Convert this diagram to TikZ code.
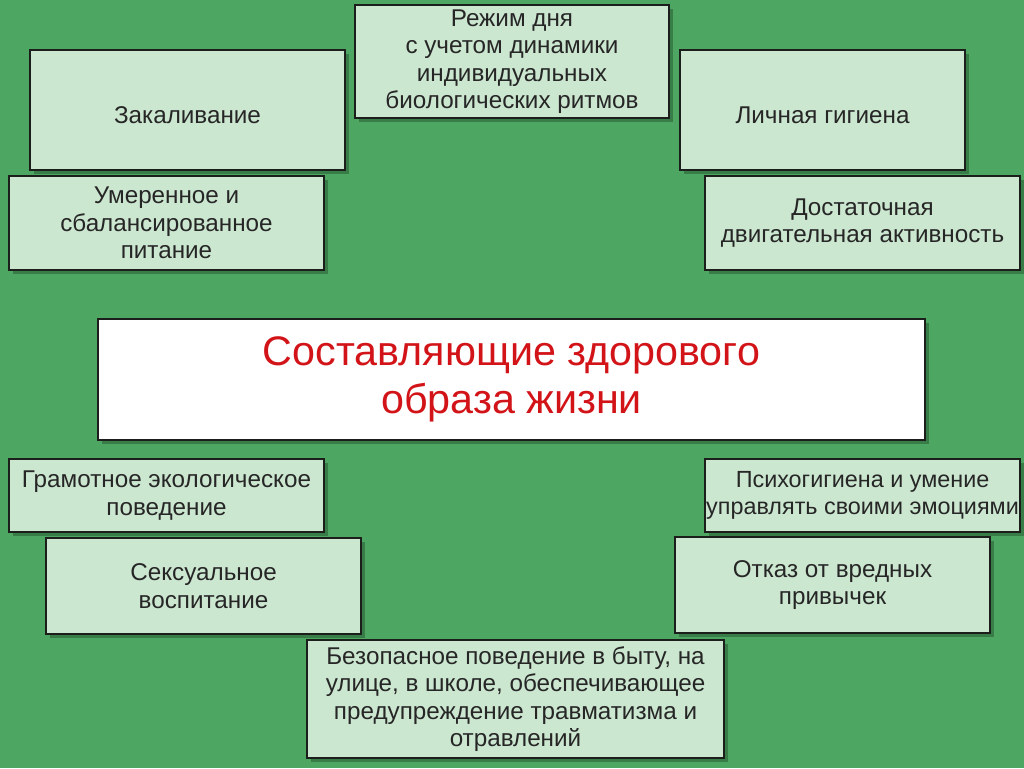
\documentclass[tikz,border=0pt]{standalone}
\usepackage{fontspec}
\setmainfont{Liberation Sans}
\usepackage{tikz}
\usetikzlibrary{shadows}
\definecolor{bggreen}{RGB}{77,166,98}
\definecolor{boxgreen}{RGB}{204,231,208}
\definecolor{edgegray}{RGB}{28,30,28}
\definecolor{titlered}{RGB}{210,20,25}
\definecolor{shadegreen}{RGB}{40,90,50}
\tikzset{
  partbox/.style={draw=edgegray,line width=1.1pt,fill=boxgreen,inner sep=0pt,
    align=center,text=black!85,font=\fontsize{13.8}{15.6}\selectfont,
    drop shadow={shadow xshift=2.2pt,shadow yshift=-2.2pt,opacity=.55,fill=shadegreen}},
  onelinebox/.style={partbox,execute at begin node={\rule{0pt}{15pt}}}, % a bit lower
  titlebox/.style={partbox,fill=white,text=titlered,font=\fontsize{23.5}{27.2}\selectfont}
}
\begin{document}
\begin{tikzpicture}[x=0.02cm,y=-0.02cm]
\fill[bggreen](0,0)rectangle(1024,768); %background
\useasboundingbox(0,0)rectangle(1024,768);

%top row
\node[onelinebox,minimum width=6.3cm,minimum height=2.4cm] (zakal) at (187.5,110){Закаливание};
\node[partbox,minimum width=6.28cm,minimum height=2.26cm] (rezhim) at (512,61.5)
  {Режим дня\\с учетом динамики\\индивидуальных\\биологических ритмов};
\node[onelinebox,minimum width=5.7cm,minimum height=2.4cm] (gigiena) at (822.5,110){Личная гигиена};
\node[partbox,minimum width=6.3cm,minimum height=1.88cm] (pitanie) at (166.5,223)
  {Умеренное и\\сбалансированное\\питание};
\node[partbox,minimum width=6.3cm,minimum height=1.88cm] (dvig) at (862.5,223)
  {Достаточная\\двигательная активность};

%centre
\node[titlebox,minimum width=16.54cm,minimum height=2.42cm] (zozh) at (511.5,379.5)
  {Составляющие здорового\\образа жизни};

%bottom rows
\node[partbox,minimum width=6.3cm,minimum height=1.46cm] (ekolog) at (166.5,495.5)
  {Грамотное экологическое\\поведение};
\node[partbox,minimum width=6.3cm,minimum height=1.92cm] (seks) at (203.5,586)
  {Сексуальное\\воспитание};
\node[partbox,minimum width=6.3cm,minimum height=1.46cm,font=\fontsize{13.3}{15.6}\selectfont] (psih) at (862.5,495.5)
  {Психогигиена и умение\\управлять своими эмоциями};
\node[partbox,minimum width=6.3cm,minimum height=1.92cm] (otkaz) at (832.5,585)
  {Отказ от вредных\\привычек};
\node[partbox,minimum width=8.34cm,minimum height=2.36cm] (bezop) at (515.5,699)
  {Безопасное поведение в быту, на\\улице, в школе, обеспечивающее\\предупреждение травматизма и\\отравлений};
\end{tikzpicture}
\end{document}
